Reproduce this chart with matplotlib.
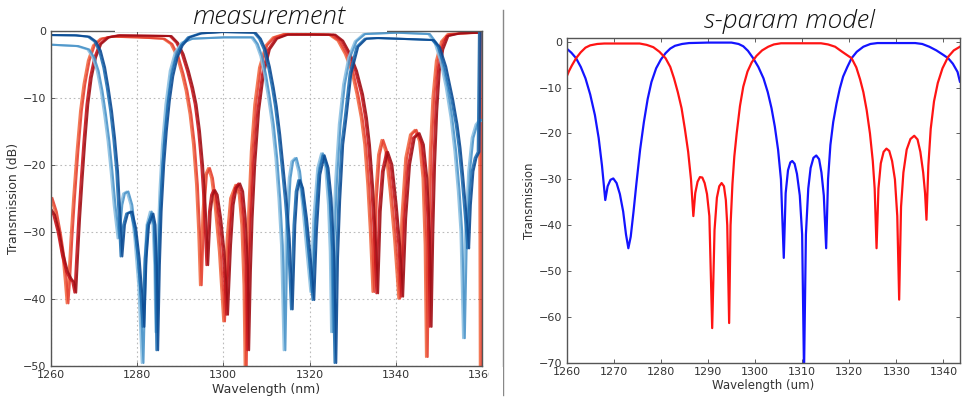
import matplotlib
matplotlib.use('Agg')
import matplotlib.pyplot as plt
from matplotlib.patches import Rectangle
import numpy as np

red_light_nm = [1260, 1261, 1262, 1262.8, 1263.3, 1263.7, 1264.1, 1264.6, 1265.2, 1266, 1266.8, 1267.6, 1268.6,
                1269.8, 1271.5, 1274, 1280, 1286, 1287.8, 1289.2, 1290.4, 1291.3, 1292.2, 1293, 1293.7, 1294.2,
                1294.6, 1295.2, 1295.8, 1296.5, 1297.2, 1298, 1299, 1300, 1300.8, 1301.6, 1302.8, 1303.6, 1304.2,
                1304.7, 1305.0, 1305.3, 1305.8, 1306.4, 1307.2, 1308.3, 1309.8, 1311.5, 1314, 1320, 1324.5,
                1326.5, 1328.2, 1329.7, 1330.9, 1331.9, 1332.7, 1333.4, 1334, 1334.6, 1335.2, 1335.9, 1336.7,
                1337.6, 1338.6, 1339.6, 1340.6, 1341.3, 1342.2, 1343.3, 1344.4, 1345.4, 1346.2, 1346.7, 1347,
                1347.4, 1347.9, 1348.5, 1349.3, 1350.5, 1352, 1359.3, 1359.5]
red_light_db = [-25, -27, -30.5, -34, -37.5, -40.7, -37, -31, -25, -18, -12, -8, -4.5,
                -2.2, -1.2, -0.9, -1.0, -1.2, -2, -3.8, -6.5, -9, -12.5, -17, -23, -30,
                -38, -27, -21.5, -20.5, -22, -26, -33, -43.4, -31, -25, -23, -24.5, -29,
                -38, -52, -38, -27, -18, -11, -5.5, -2.2, -1.0, -0.5, -0.5, -0.6,
                -1.5, -3.5, -6, -9.5, -13, -17, -23, -30, -39, -25, -18.5, -16.3,
                -18, -24, -31, -40, -28, -19, -15.5, -14.8, -16.5, -22, -32, -48.7,
                -30, -18, -10, -4.5, -1.6, -0.5, -0.3, -55]

red_dark_nm = [1260, 1261, 1262, 1263, 1264, 1264.8, 1265.4, 1265.9, 1266.3, 1266.8, 1267.4, 1268.0, 1268.7,
               1269.5, 1270.5, 1271.7, 1273.5, 1276, 1288, 1289.5, 1290.8, 1292, 1293, 1293.8, 1294.6, 1295.3,
               1295.9, 1296.5, 1297.1, 1297.6, 1298.1, 1298.7, 1299.5, 1300.3, 1301.1, 1301.8, 1302.4, 1303.1,
               1303.9, 1304.6, 1305.2, 1305.7, 1306.0, 1306.4, 1306.8, 1307.4, 1308.3, 1309.4, 1310.8, 1312.5,
               1315, 1326, 1327.8, 1329.5, 1331, 1332.4, 1333.3, 1334, 1334.7, 1335.3, 1335.9, 1336.5, 1337.2,
               1338.2, 1339.2, 1340.2, 1341, 1341.7, 1342.4, 1343.3, 1344.4, 1345.5, 1346.5, 1347.3, 1347.9,
               1348.3, 1348.7, 1349.1, 1349.6, 1350.2, 1351, 1352.2, 1355, 1359.3]
red_dark_db = [-26.5, -27.5, -30, -33.5, -36, -37, -37.5, -39.1, -34, -28, -22, -16.5, -11,
               -7, -4, -2, -1, -0.7, -0.8, -1.8, -3.5, -6, -8.5, -11, -15, -20,
               -26, -35, -27, -24.5, -23.8, -24.5, -28, -33, -42.4, -32, -26, -23.5,
               -22.8, -24, -28, -35, -47.7, -36, -28, -20, -12, -6.5, -2.8, -1.2,
               -0.6, -0.6, -1.5, -3.5, -6, -9.5, -13, -17, -23, -30, -39.2, -27, -21,
               -18.1, -20, -26, -32, -39.7, -28, -20, -16, -15.3, -17, -22, -30,
               -44.2, -30, -20, -12, -6, -2.8, -0.8, -0.4, -0.3]

# ---- measurement, blue port
blue_light_nm = [1260, 1266, 1268.5, 1269.7, 1270.7, 1271.6, 1272.4, 1273.2, 1273.9, 1274.6, 1275.5, 1276.2,
                 1276.8, 1277.6, 1278.5, 1279.4, 1280.3, 1281.1, 1281.6, 1282.2, 1283, 1283.6, 1284, 1284.3,
                 1284.7, 1285.2, 1285.8, 1286.6, 1287.6, 1288.8, 1290.3, 1292.5, 1300, 1306.5, 1307.6, 1308.6,
                 1309.5, 1310.4, 1311.3, 1312.1, 1312.8, 1313.4, 1314, 1314.5, 1315.2, 1315.8, 1316.6, 1317.4,
                 1318.3, 1319.3, 1320.2, 1320.9, 1321.8, 1322.7, 1323.6, 1324.3, 1324.7, 1325, 1325.4, 1326,
                 1326.8, 1327.8, 1329, 1330.5, 1332.5, 1340, 1347.5, 1349, 1350.3, 1351.6, 1352.7, 1353.6,
                 1354.4, 1355, 1355.6, 1356.1, 1356.8, 1357.6, 1358.5, 1359.4, 1360]
blue_light_db = [-2.1, -2.3, -2.8, -4, -6, -9, -12.5, -16.5, -21, -26, -31, -26,
                 -24.3, -24, -26, -31, -38, -49.6, -36, -29, -27, -29, -35, -45,
                 -33, -24, -17, -11, -6, -3.2, -1.8, -1.2, -1.0, -1.0, -2, -3.8,
                 -6.5, -10, -14, -19, -25, -32, -47.7, -30, -22, -19.5, -19, -21,
                 -26, -33, -39, -28, -20.5, -18.3, -20, -26, -33, -45, -31, -22,
                 -14, -8, -4, -1.6, -0.5, -0.3, -0.5, -1.8, -4.5, -8.5, -13, -18,
                 -24, -30, -45.9, -30, -21, -16, -14, -13.3, -13.5]

blue_dark_nm = [1260, 1266, 1269, 1270.5, 1271.6, 1272.6, 1273.4, 1274.2, 1274.9, 1275.6, 1276.1, 1276.6,
                1277.2, 1277.9, 1278.9, 1279.8, 1280.6, 1281.3, 1281.7, 1282.2, 1282.8, 1283.8, 1284.3, 1284.6,
                1284.9, 1285.3, 1285.7, 1286.3, 1286.9, 1287.6, 1288.4, 1289.4, 1290.6, 1292.2, 1295, 1300,
                1307.5, 1308.7, 1309.8, 1310.8, 1311.7, 1312.4, 1313.2, 1313.9, 1314.7, 1315.4, 1316.1, 1316.7,
                1317.2, 1317.8, 1318.5, 1319.4, 1320.3, 1321.1, 1321.7, 1322.5, 1323.5, 1324.4, 1325.1, 1325.7,
                1326.2, 1326.6, 1327.1, 1327.8, 1328.6, 1329.7, 1331.3, 1333.2, 1336, 1345, 1348.8, 1350.2,
                1351.7, 1353.3, 1354.3, 1355, 1355.6, 1356.2, 1356.7, 1357, 1357.4, 1358, 1358.7, 1359.4, 1359.7]
blue_dark_db = [-0.65, -0.7, -0.9, -1.6, -3, -5.5, -8.5, -12, -16, -21, -27, -33.7,
                -29, -27.3, -27, -29.5, -34, -40, -44.2, -34, -29, -27.3, -29, -35,
                -47.7, -35, -27, -20, -15, -10.5, -6.8, -4, -2.2, -1.0, -0.4, -0.2,
                -0.3, -1.2, -2.8, -5.4, -8.5, -11.3, -15.5, -20, -25.3, -31, -41.6, -29,
                -24, -22.3, -23.5, -28, -34, -40.2, -30, -21.5, -18.6, -20.5, -25, -33,
                -49.6, -34, -25.3, -17, -12.8, -6.4, -2.4, -1.2, -1.1, -1.3, -1.4, -2.4,
                -5.4, -10.3, -14, -17.5, -21.5, -26, -30, -32.5, -26, -21, -19, -18.1, 0.5]

# the measured traces: which base curve, shift in nm, colour
red_traces = [('light', 0.0, '#f26a45'), ('light', 0.4, '#e5402f'),
              ('dark', -0.4, '#c8161d'), ('dark', 0.0, '#9f0d14')]
blue_traces = [('light', 0.0, '#8cc0e2'), ('light', 0.4, '#4b94c9'),
               ('dark', -0.4, '#2070b3'), ('dark', 0.0, '#0b4a92')]

# ---- s-param model
model_blue_nm = [1260, 1261, 1262, 1263, 1264, 1265, 1266, 1266.8, 1267.5, 1268.2, 1268.7, 1269.3, 1269.9,
                 1270.6, 1271.3, 1272, 1272.6, 1273.1, 1273.6, 1274.2, 1274.8, 1275.6, 1276.4, 1277.2, 1278,
                 1279, 1280, 1281, 1282, 1283, 1284.5, 1286, 1290, 1295, 1296.5, 1297.5, 1298.5, 1299.6,
                 1300.7, 1301.8, 1302.7, 1303.5, 1304.2, 1304.9, 1305.5, 1306.1, 1306.5, 1307, 1307.5, 1307.9,
                 1308.4, 1308.9, 1309.5, 1310.0, 1310.4, 1310.8, 1311.3, 1311.8, 1312.4, 1313.0, 1313.6,
                 1314.1, 1314.6, 1315.1, 1315.5, 1316, 1316.6, 1317.3, 1318, 1318.7, 1319.6, 1320.5, 1321.6,
                 1323, 1324.5, 1326, 1334, 1335.5, 1337, 1338.5, 1340, 1341, 1342, 1343, 1343.5]
model_blue_db = [-1.5, -2.4, -3.6, -5.5, -8, -11.5, -16, -21, -27, -34.5, -31.5, -30.1, -29.8,
                 -30.8, -33.2, -37, -42, -45, -42.5, -37, -31, -23.5, -17.5, -12.5, -8.8,
                 -5.8, -3.9, -2.5, -1.5, -0.9, -0.5, -0.3, -0.2, -0.2, -0.5, -1.0, -2, -3.6,
                 -5.5, -8, -11, -14.5, -18.5, -23.6, -30, -47.1, -33, -28, -26.3, -26,
                 -26.6, -28.8, -33.5, -42, -72, -42, -32, -27.5, -25.3, -24.8, -25.6,
                 -28.5, -33.5, -45, -30, -22.5, -17.5, -13.5, -10.2, -7.6, -5.5, -3.6, -2.2,
                 -1.1, -0.5, -0.3, -0.3, -0.5, -1.1, -1.9, -2.9, -3.6, -4.8, -6.6, -8.7]

model_red_nm = [1260, 1260.5, 1261.1, 1262, 1263, 1264, 1265, 1266.5, 1268, 1275.5, 1277, 1278.4, 1279.7,
                1281, 1282, 1282.8, 1283.6, 1284.4, 1285.1, 1285.8, 1286.4, 1286.9, 1287.3, 1287.8, 1288.3,
                1288.8, 1289.3, 1289.8, 1290.3, 1290.9, 1291.4, 1291.9, 1292.4, 1292.9, 1293.4, 1293.8,
                1294.1, 1294.5, 1294.8, 1295.2, 1295.6, 1296.1, 1296.8, 1297.5, 1298.4, 1299.3, 1300.3,
                1301.5, 1302.8, 1304, 1305.5, 1314, 1315.5, 1317, 1318.5, 1320.5, 1321.5, 1322.3, 1323,
                1323.7, 1324.4, 1325, 1325.4, 1325.8, 1326.2, 1326.7, 1327.3, 1327.9, 1328.5, 1329.1, 1329.7,
                1330.2, 1330.6, 1331, 1331.5, 1332.2, 1333, 1333.8, 1334.5, 1335.1, 1335.7, 1336.1, 1336.4,
                1336.8, 1337.3, 1338, 1338.8, 1339.8, 1341, 1342.2, 1343.5]
model_red_db = [-7.6, -6.4, -5.2, -3.6, -2.3, -1.3, -0.8, -0.5, -0.4, -0.4, -0.7, -1.2, -2.2,
                -3.6, -5.5, -8, -11, -14.5, -19, -24, -30, -38, -33, -30.5, -29.5,
                -29.6, -30.8, -33.2, -38, -62.4, -41, -34, -31.5, -30.8, -31.5, -34.5,
                -40, -61.3, -40, -31, -25, -20, -14, -9.8, -6.5, -4.5, -3.1,
                -1.9, -1.1, -0.6, -0.35, -0.35, -0.6, -1.1, -2.2, -3.6, -5.6, -8.2, -11,
                -14.9, -20, -26, -32, -45, -32, -26.5, -24, -23.3, -23.8, -26, -30,
                -38, -56.2, -36, -28.5, -23.5, -21.2, -20.5, -21.3, -24, -28.5, -33, -38.8,
                -27, -19, -13, -9, -5.8, -3.3, -1.9, -1.1]

meas_xticks = [1260, 1280, 1300, 1320, 1340, 1360]
meas_yticks = [0, -10, -20, -30, -40, -50]
model_xticks = [1260, 1270, 1280, 1290, 1300, 1310, 1320, 1330, 1340]
model_yticks = [0, -10, -20, -30, -40, -50, -60, -70]


def style_axes(ax):
    for s in ax.spines.values():
        s.set_color('#555555')
        s.set_linewidth(1.0)
    ax.tick_params(direction='in', length=3, width=0.6, colors='#444444',
                   labelsize=8, labelcolor='#333333', top=True, right=True, pad=3)


fig = plt.figure(figsize=(9.66, 4.03), dpi=100)

# left panel: measurement
ax1 = fig.add_axes([0.0525, 0.0926, 0.4465, 0.8313])
bases = {'red': {'light': (red_light_nm, red_light_db), 'dark': (red_dark_nm, red_dark_db)},
         'blue': {'light': (blue_light_nm, blue_light_db), 'dark': (blue_dark_nm, blue_dark_db)}}
for port, traces in (('red', red_traces), ('blue', blue_traces)):
    for which, shift, col in traces:
        x, y = bases[port][which]
        ax1.plot(np.array(x) + shift, y, color=col, lw=1.5, alpha=0.9, solid_joinstyle='round')
ax1.set_xlim(1260, 1360)
ax1.set_ylim(-50, 0)
ax1.set_xticks(meas_xticks)
ax1.set_yticks(meas_yticks)
ax1.grid(True, ls=(0, (1.5, 2.5)), color='#bbbbbb', lw=0.8)
ax1.set_xlabel('Wavelength (nm)', fontsize=9, color='#333333', labelpad=2)
ax1.set_ylabel('Transmission (dB)', fontsize=9, color='#333333', labelpad=2)
style_axes(ax1)

# right panel: s-param model
ax2 = fig.add_axes([0.5866, 0.0993, 0.4071, 0.8072])
ax2.plot(model_blue_nm, model_blue_db, color='#1414ff', lw=1.6)
ax2.plot(model_red_nm, model_red_db, color='#ff1414', lw=1.6)
ax2.set_xlim(1260, 1343.5)
ax2.set_ylim(-70, 0.87)
ax2.set_xticks(model_xticks)
ax2.set_yticks(model_yticks)
ax2.set_xlabel('Wavelength (um)', fontsize=8.5, color='#333333', labelpad=1)
ax2.set_ylabel('Transmission', fontsize=8.5, color='#333333', labelpad=2)
style_axes(ax2)

# white box behind the left title hides part of the top spine
fig.patches.append(Rectangle((115 / 966, 1 - 31.5 / 403), (387 - 115) / 966, 31.5 / 403,
                             transform=fig.transFigure, facecolor='white', edgecolor='none', zorder=5))
# left picture is cropped just after the last tick label
fig.patches.append(Rectangle((489 / 966, 0), 14 / 966, 0.09, transform=fig.transFigure,
                             facecolor='white', edgecolor='none', zorder=5))

fig.text(268 / 966, 1 - 17 / 403, 'measurement', ha='center', va='center', fontsize=19,
         family='Open Sans', style='italic', weight='light', color='#111111', zorder=6)
fig.text(789 / 966, 1 - 21 / 403, 's-param model', ha='center', va='center', fontsize=19,
         family='Open Sans', style='italic', weight='light', color='#111111', zorder=6)

# divider between the two pictures
fig.add_artist(plt.Line2D([503 / 966, 503 / 966], [1 - 395 / 403, 1 - 10 / 403],
                          color='#888888', lw=1.0, transform=fig.transFigure))

plt.savefig('out.png', dpi=100)
plt.close()
